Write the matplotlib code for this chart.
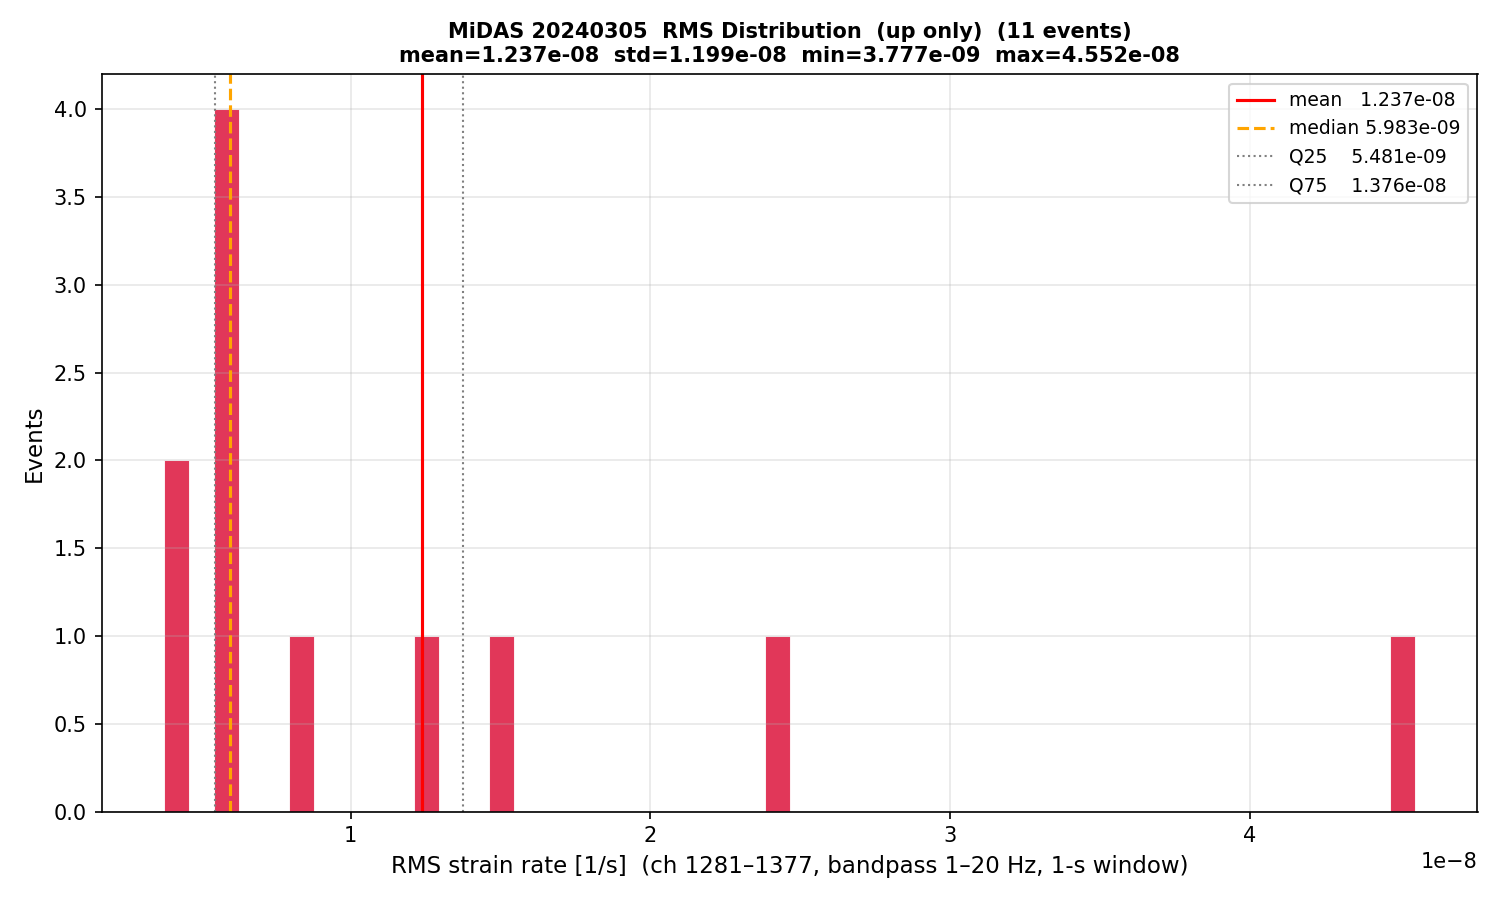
import numpy as np
import matplotlib
matplotlib.use("Agg")
import matplotlib.pyplot as plt

# RMS values per event (strain rate, 1/s)
rms_values = np.array([
    3.777e-9, 4.30e-9, 5.462e-9, 5.500e-9, 5.68e-9, 5.983e-9,
    8.20e-9, 1.250e-8, 1.502e-8, 2.412e-8, 4.552e-8,
])
n_bins = 50
date_tag = "20240305"

mean_v = rms_values.mean()
std_v = rms_values.std()
med_v = np.median(rms_values)
q25, q75 = np.percentile(rms_values, [25, 75])

fig, ax = plt.subplots(figsize=(10, 6), dpi=150)
ax.hist(rms_values, bins=n_bins, color="crimson", alpha=0.85,
        edgecolor="white", linewidth=0.5)

ax.axvline(mean_v, color="red", lw=1.5, label=f"mean   {mean_v:.3e}")
ax.axvline(med_v, color="orange", lw=1.5, ls="--", label=f"median {med_v:.3e}")
ax.axvline(q25, color="gray", lw=1, ls=":", label=f"Q25    {q25:.3e}")
ax.axvline(q75, color="gray", lw=1, ls=":", label=f"Q75    {q75:.3e}")

ax.set_xlabel("RMS strain rate [1/s]  (ch 1281\u20131377, bandpass 1\u201320 Hz, 1-s window)", fontsize=11)
ax.set_ylabel("Events", fontsize=11)
ax.set_title(f"MiDAS {date_tag}  RMS Distribution  (up only)  ({len(rms_values)} events)\n"
             f"mean={mean_v:.3e}  std={std_v:.3e}  min={rms_values.min():.3e}  max={rms_values.max():.3e}",
             fontsize=10, fontweight="bold")
ax.legend(fontsize=9, loc="upper right")
ax.grid(alpha=0.3)

plt.tight_layout()
plt.savefig("out.png")
